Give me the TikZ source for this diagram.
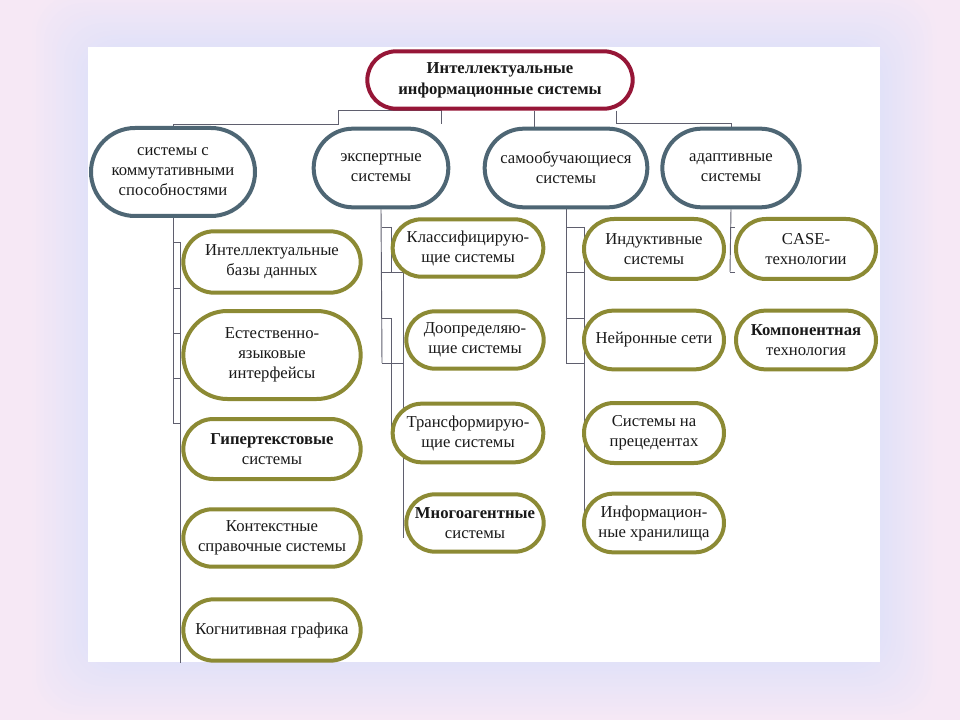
\documentclass[tikz,border=0pt]{standalone}
\usepackage{fontspec}
\setmainfont{Liberation Serif}
\usetikzlibrary{shapes.misc}
\definecolor{rootc}{RGB}{150,22,55}
\definecolor{midc}{RGB}{78,102,116}
\definecolor{leafc}{RGB}{140,138,52}
\definecolor{linec}{RGB}{95,95,110}
\definecolor{bgouter}{RGB}{246,232,245}
\definecolor{bginner}{RGB}{226,226,248}
\definecolor{txt}{RGB}{25,25,25}
\pgfdeclarelayer{back}
\pgfdeclarelayer{bg}
\pgfsetlayers{back,bg,main}
\begin{document}
\begin{tikzpicture}[x=0.75pt,y=-0.75pt,
 box/.style={rounded rectangle, draw, line width=3pt, fill=white, align=center, text=txt,
   font=\fontsize{12.5}{15}\selectfont, inner sep=0pt},
 rootbox/.style={box, draw=rootc, font=\bfseries\fontsize{12.5}{16}\selectfont},
 midbox/.style={box, draw=midc},
 leafbox/.style={box, draw=leafc},
 link/.style={draw=linec, line width=0.7pt}]
\useasboundingbox (0,0) rectangle (960,720);
\begin{pgfonlayer}{back}
\fill[bgouter] (0,0) rectangle (960,720);
\foreach \i in {0,...,14}{
  \pgfmathtruncatemacro\d{60-4*\i}
  \pgfmathtruncatemacro\m{7*\i}
  \fill[bginner!\m!bgouter, rounded corners=30] (88-\d,47-\d) rectangle (880+\d,662+\d);
}
\fill[white] (88,47) rectangle (880,662);
\end{pgfonlayer}

% root
\node[rootbox, minimum width=199pt, minimum height=43pt] (root) at (500,80) {Интеллектуальные\\информационные системы};
% level 2
\node[midbox, minimum width=123pt, minimum height=66pt] (A) at (173,172) {системы с\\коммутативными\\способностями};
\node[midbox, minimum width=101pt, minimum height=59pt] (B) at (381,168) {экспертные\\системы};
\node[midbox, minimum width=122pt, minimum height=59pt] (C) at (566,168) {самообучающиеся\\системы};
\node[midbox, minimum width=103pt, minimum height=59pt] (D) at (731,168) {адаптивные\\системы};
% column A
\node[leafbox, minimum width=133pt, minimum height=46pt] (A1) at (272,262) {Интеллектуальные\\базы данных};
\node[leafbox, minimum width=133pt, minimum height=66pt] (A2) at (272,355) {Естественно-\\языковые\\интерфейсы};
\node[leafbox, minimum width=133pt, minimum height=45pt] (A3) at (272,449) {\textbf{Гипертекстовые}\\системы};
\node[leafbox, minimum width=133pt, minimum height=43pt] (A4) at (272,538) {Контекстные\\справочные системы};
\node[leafbox, minimum width=133pt, minimum height=46pt] (A5) at (272,630) {Когнитивная графика};
% column B
\node[leafbox, minimum width=113pt, minimum height=43pt] (B1) at (468,248) {Классифицирую-\\щие системы};
\node[leafbox, minimum width=103pt, minimum height=43pt] (B2) at (475,340) {Доопределяю-\\щие системы};
\node[leafbox, minimum width=113pt, minimum height=44pt] (B3) at (468,433) {Трансформирую-\\щие системы};
\node[leafbox, minimum width=103pt, minimum height=43pt] (B4) at (475,523) {\textbf{Многоагентные}\\системы};
% column C
\node[leafbox, minimum width=105pt, minimum height=45pt] (C1) at (654,249) {Индуктивные\\системы};
\node[leafbox, minimum width=105pt, minimum height=44pt] (C2) at (654,340) {Нейронные сети};
\node[leafbox, minimum width=105pt, minimum height=45pt] (C3) at (654,433) {Системы на\\прецедентах};
\node[leafbox, minimum width=105pt, minimum height=44pt] (C4) at (654,523) {Информацион-\\ные хранилища};
% column D
\node[leafbox, minimum width=105pt, minimum height=45pt] (D1) at (806,249) {CASE-\\технологии};
\node[leafbox, minimum width=105pt, minimum height=44pt] (D2) at (806,340) {\textbf{Компонентная}\\технология};

\begin{pgfonlayer}{bg}
% from root
\draw[link] (441,124) -- (441,0 |- root.south) -- (338,0 |- root.south) -- (338,124) -- (173,124) -- (A.north);
\draw[link] (534,0 |- root.south) -- (534,0 |- C.north);
\draw[link] (616,0 |- root.south) -- (616,123) -- (731,123) -- (D.north);
% column A
\draw[link] (A.south) -- (173,423);
\foreach \y in {242,288,333,378,423} \draw[link] (173,\y) -- (180,\y);
\draw[link] (180,242) -- (180,0 |- A5.south);
% column B
\draw[link] (B.south) -- (382,363);
\foreach \y in {227,318} \draw[link] (382,\y) -- (391,\y);
\foreach \y in {272,363} \draw[link] (382,\y) -- (403,\y);
\draw[link] (391,227) -- (391,272);
\draw[link] (391,318) -- (391,0 |- B3.center);
\draw[link] (403,272) -- (403,538);
% column C
\draw[link] (C.south) -- (566,363);
\foreach \y in {227,272,318,363} \draw[link] (566,\y) -- (584,\y);
\draw[link] (584,227) -- (584,530);
% column D
\draw[link] (D.south) -- (730,272);
\foreach \y in {227,272} \draw[link] (730,\y) -- (735,\y);
\end{pgfonlayer}
\end{tikzpicture}
\end{document}
